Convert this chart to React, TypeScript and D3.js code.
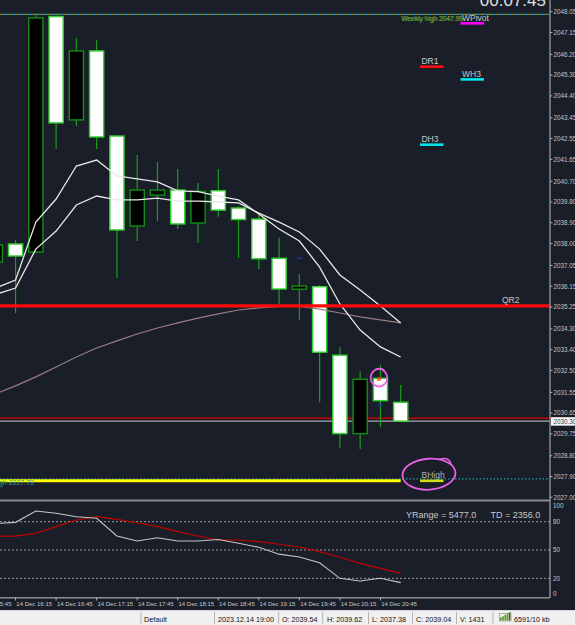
import React from "react";
import * as d3 from "d3";

// ---------- data ----------
const candleTimes = ["16:00","16:15","16:30","16:45","17:00","17:15","17:30","17:45","18:00","18:15","18:30","18:45","19:00","19:15","19:30","19:45","20:00","20:15","20:30","20:45","21:00"];
const opens  = [2037.20,2037.98,2037.63,2047.84,2043.36,2046.35,2042.66,2038.76,2040.10,2040.32,2038.89,2040.29,2039.54,2039.06,2037.36,2036.02,2036.13,2033.16,2029.76,2032.16,2031.12];
const highs  = [2038.02,2038.15,2047.97,2047.95,2046.91,2046.82,2042.70,2041.84,2041.54,2041.23,2040.62,2041.23,2039.62,2039.24,2038.25,2036.68,2036.20,2033.50,2032.46,2032.74,2031.87];
const lows   = [2037.07,2034.99,2037.59,2042.10,2043.10,2042.10,2036.51,2038.11,2038.98,2038.63,2038.02,2039.16,2037.38,2036.90,2035.38,2034.70,2031.12,2029.15,2029.09,2030.04,2030.27];
const closes = [2037.94,2037.46,2047.78,2043.23,2046.35,2042.62,2038.59,2040.32,2040.32,2038.85,2040.26,2039.45,2039.04,2037.34,2036.03,2036.16,2033.29,2029.76,2032.12,2031.19,2030.30];

const maFast = [2036.07,2036.42,2038.93,2039.93,2041.36,2041.62,2040.93,2040.80,2040.67,2040.28,2040.25,2040.06,2039.89,2039.28,2038.63,2038.11,2036.98,2035.38,2034.25,2033.52,2033.08];
const maMid  = [2035.79,2036.07,2037.76,2038.54,2039.67,2040.06,2039.89,2039.89,2039.97,2039.84,2039.84,2039.80,2039.76,2039.32,2038.93,2038.50,2037.76,2036.64,2035.99,2035.29,2034.56];
const maSlow = [2031.48,2031.83,2032.22,2032.65,2033.08,2033.47,2033.78,2034.08,2034.34,2034.56,2034.77,2034.95,2035.12,2035.21,2035.27,2035.27,2035.16,2034.99,2034.82,2034.69,2034.56];

const oscMain   = [78.1,79.3,91.3,88.9,85.3,83.6,64.8,59.5,63.0,59.5,59.5,61.1,57.1,52.9,45.6,42.6,36.5,20.0,17.2,20.0,15.4];
const oscSignal = [64.8,64.8,67.7,74.7,81.8,85.3,82.5,78.9,74.7,69.4,64.8,60.6,60.6,58.8,56.1,53.2,48.2,42.3,35.9,30.6,25.3];

const priceTicks = ["2048.05","2047.15","2046.20","2045.30","2044.40","2043.45","2042.55","2041.65","2040.70","2039.80","2038.90","2038.00","2037.05","2036.15","2035.25","2034.30","2033.40","2032.50","2031.55","2030.65","2029.75","2028.80","2027.90","2027.00"];
const oscTicks = [100, 80, 50, 20, 0];
const oscLevels = [80, 50, 20];
const xTickTimes = ["15:45","16:15","16:45","17:15","17:45","18:15","18:45","19:15","19:45","20:15","20:45"];

const weeklyHigh = 2047.93;
const weeklyHighLabel = "Weekly high 2047.99";
const qr2Level = 2035.30;
const redThinLevel = 2030.43;
const currentPrice = 2030.30;
const yellowLevel = 2027.72;
const bHighLevel = 2027.80;
const bHighLabel = "BHigh 2027.79";

const pivotNames  = ["WPivot", "DR1", "WH3", "DH3", "BHigh"];
const pivotValues = [2047.55, 2045.67, 2045.12, 2042.29, 2027.72];
const pivotTimes  = ["21:45", "21:15", "21:45", "21:15", "21:15"];
const pivotColors = ["#ff00ff", "#ff1010", "#00e5f0", "#00e5f0", "#d4dc10"];

const blueMarkTimes = ["19:45", "20:45"];
const blueMarkValues = [2037.36, 2031.00];

const statusTexts = ["Default","2023.12.14 19:00","O: 2039.54","H: 2039.62","L: 2037.38","C: 2039.04","V: 1431","6591/10 kb"];

export default function App() {
  const W = 575, H = 625;
  const FONT = "'Liberation Sans', Arial, sans-serif";
  const parseT = d3.timeParse("%Y-%m-%d %H:%M");
  const t = (s: string) => parseT("2023-12-14 " + s) as Date;
  const fmtX = d3.timeFormat("%d %b %H:%M");

  const axisX = 550;
  const x = d3.scaleTime().domain([t("16:00"), t("21:00")]).range([-4.7, 400.7]);
  const y = d3.scaleLinear().domain([2027.0, 2048.05]).range([497.3, 11.7]);
  const yo = d3.scaleLinear().domain([0, 100]).range([597.2, 502.8]);

  const step = x(t("16:15")) - x(t("16:00"));
  const bw = step * 0.7;

  const candles = candleTimes.map((s, i) => ({ t: t(s), o: opens[i], h: highs[i], l: lows[i], c: closes[i] }));
  const pline = d3.line<number>().x((_, i) => x(candles[i].t)).y((v) => y(v));
  const oline = d3.line<number>().x((_, i) => x(candles[i].t)).y((v) => yo(v));

  const bhX = x(t("21:15"));
  const bhY = y(yellowLevel);
  const circX = x(t("20:45"));
  const circY = y(opens[19]);

  const statusX = [144, 218, 282, 327, 372, 416, 460, 514];
  const sepX = [141, 214.5, 278.7, 322.7, 368.5, 412.5, 456.5, 493];

  return (
    <svg width={W} height={H} style={{ position: "absolute", left: 0, top: 0, display: "block" }} fontFamily={FONT}>
      <rect x={0} y={0} width={W} height={H} fill="#1a1e29" />

      {/* thin level lines behind candles */}
      <line x1={0} x2={W} y1={y(redThinLevel)} y2={y(redThinLevel)} stroke="#e00000" strokeWidth={1.3} />
      <line x1={0} x2={axisX} y1={y(currentPrice)} y2={y(currentPrice)} stroke="#a8a8a8" strokeWidth={1.3} />

      {/* weekly high dashed */}
      <line x1={0} x2={axisX} y1={y(weeklyHigh)} y2={y(weeklyHigh)} stroke="#7a8a2a" strokeWidth={1.2} strokeDasharray="4,4" />
      <line x1={0} x2={axisX} y1={y(weeklyHigh)} y2={y(weeklyHigh)} stroke="#1f95a5" strokeWidth={1.2} strokeDasharray="4,4" strokeDashoffset={4} />

      {/* BHigh dotted + yellow */}
      <line x1={0} x2={axisX} y1={y(bHighLevel)} y2={y(bHighLevel)} stroke="#1aa0a0" strokeWidth={1.2} strokeDasharray="1.5,2" />
      <line x1={0} x2={x(t("21:00"))} y1={y(yellowLevel)} y2={y(yellowLevel)} stroke="#ffff00" strokeWidth={3} />
      <text x={34} y={y(bHighLevel) + 6} fontSize={7} fill="#1aa5a5" textAnchor="end">{bHighLabel}</text>

      {/* candles */}
      {candles.map((d, i) => {
        const cx = x(d.t);
        const bear = d.c < d.o;
        const top = y(Math.max(d.o, d.c));
        const bot = y(Math.min(d.o, d.c));
        return (
          <g key={i}>
            <line x1={cx} x2={cx} y1={y(d.h)} y2={y(d.l)} stroke="#1a9e1a" strokeWidth={1.2} />
            <rect x={cx - bw / 2} y={top} width={bw} height={Math.max(bot - top, 1.5)}
              fill={bear ? "#ffffff" : "#000000"} stroke={bear ? "#2fd02f" : "#138e13"} strokeWidth={1.4} />
          </g>
        );
      })}

      {/* blue markers */}
      {blueMarkTimes.map((s, i) => (
        <line key={i} x1={x(t(s)) - 2.5} x2={x(t(s)) + 2.5} y1={y(blueMarkValues[i])} y2={y(blueMarkValues[i])} stroke="#2030b0" strokeWidth={1.5} />
      ))}

      {/* moving averages */}
      <path d={pline(maSlow) || ""} fill="none" stroke="#9a7b83" strokeWidth={1.2} />
      <path d={pline(maMid) || ""} fill="none" stroke="#e8e8e8" strokeWidth={1.3} />
      <path d={pline(maFast) || ""} fill="none" stroke="#e8e8e8" strokeWidth={1.3} />

      {/* QR2 thick red */}
      <line x1={0} x2={axisX} y1={y(qr2Level)} y2={y(qr2Level)} stroke="#ff0a0a" strokeWidth={3.2} />
      <text x={502} y={y(qr2Level) - 2.5} fontSize={8.5} fill="#c8c8c8">QR2</text>

      {/* pivot labels */}
      {pivotNames.map((n, i) => {
        const px = x(t(pivotTimes[i]));
        const py = y(pivotValues[i]);
        return (
          <g key={n}>
            <rect x={px - 1} y={py - 1.2} width={23.5} height={2.6} fill={pivotColors[i]} />
            <text x={px + 0.5} y={py - 2.2} fontSize={8.5} fill="#c8c8c8" opacity={n === "BHigh" ? 0.85 : 1}>{n}</text>
          </g>
        );
      })}

      {/* weekly high label */}
      <text x={401} y={21.3} fontSize={6.6} fill="#8a9a30">{weeklyHighLabel}</text>
      <text x={402} y={20.6} fontSize={6.6} fill="#3aa53a" opacity={0.85}>{weeklyHighLabel}</text>

      {/* red marker + magenta annotations */}
      <text x={circX - 1.5} y={circY + 2.5} fontSize={5.5} fill="#ff2a1a" textAnchor="middle" fontWeight="bold">M</text>
      <ellipse cx={circX - 1.5} cy={circY - 0.5} rx={8.3} ry={8.8} fill="none" stroke="#e860e8" strokeWidth={1.8} />
      <path d={`M${circX - 5},${circY - 8.5} q6,-3 9,1`} fill="none" stroke="#e860e8" strokeWidth={1.6} />
      <ellipse cx={bhX + 8} cy={bhY - 6.5} rx={26.5} ry={15.5} fill="none" stroke="#e860e8" strokeWidth={1.8} transform={`rotate(-4 ${bhX + 8} ${bhY - 6.5})`} />
      <path d={`M${bhX + 18},${bhY - 21} q10,-4 12,5`} fill="none" stroke="#e860e8" strokeWidth={1.6} />

      {/* timer */}
      <text x={546} y={5.5} fontSize={17} fill="#e0e0e0" textAnchor="end">00:07:45</text>

      {/* price axis */}
      <line x1={axisX} x2={axisX} y1={0} y2={598} stroke="#8a8a8a" strokeWidth={1.5} />
      {priceTicks.map((p) => (
        <g key={p}>
          <line x1={axisX} x2={axisX + 2.5} y1={y(+p)} y2={y(+p)} stroke="#b0b0b0" strokeWidth={1} />
          <text x={553.5} y={y(+p) + 2.3} fontSize={6.3} fill="#c4c4c4">{p}</text>
        </g>
      ))}
      <rect x={551} y={y(currentPrice) - 4} width={24} height={8.5} fill="#f4f4f4" />
      <text x={553.5} y={y(currentPrice) + 2.5} fontSize={6.3} fill="#404040">{currentPrice.toFixed(2)}</text>

      {/* indicator panel */}
      <line x1={0} x2={axisX} y1={500.5} y2={500.5} stroke="#8c8c8c" strokeWidth={2} />
      <line x1={0} x2={axisX} y1={597.7} y2={597.7} stroke="#8c8c8c" strokeWidth={1.6} />
      {oscLevels.map((v) => (
        <line key={v} x1={0} x2={axisX} y1={yo(v)} y2={yo(v)} stroke="#9a9a9a" strokeWidth={1} strokeDasharray="2,2" />
      ))}
      {oscTicks.map((v) => (
        <text key={v} x={553} y={Math.min(Math.max(yo(v), 505.5), 593.5) + 2.3} fontSize={6.3} fill="#c4c4c4">{v}</text>
      ))}
      <path d={oline(oscSignal) || ""} fill="none" stroke="#c00000" strokeWidth={1.2} />
      <path d={oline(oscMain) || ""} fill="none" stroke="#c4c4c4" strokeWidth={1.1} />
      <text x={406} y={517.5} fontSize={9} fill="#c8c8c8">YRange = 5477.0</text>
      <text x={490.5} y={517.5} fontSize={9} fill="#c8c8c8">TD = 2356.0</text>

      {/* time axis */}
      {xTickTimes.map((s) => {
        const tx = x(t(s));
        return (
          <g key={s}>
            <line x1={tx} x2={tx} y1={597.5} y2={600.5} stroke="#b0b0b0" strokeWidth={1} />
            <text x={tx + 0.8} y={605.5} fontSize={6} fill="#c8c8c8">{fmtX(t(s))}</text>
          </g>
        );
      })}

      {/* status bar */}
      <rect x={0} y={610} width={W} height={15} fill="#f0f0f0" />
      <line x1={0} x2={W} y1={610.5} y2={610.5} stroke="#d8d8d8" strokeWidth={1} />
      {sepX.map((sx, i) => (
        <line key={i} x1={sx} x2={sx} y1={612} y2={624} stroke="#b4b4b4" strokeWidth={1} />
      ))}
      {statusTexts.map((s, i) => (
        <text key={i} x={statusX[i]} y={621.5} fontSize={7.2} fill="#111">{s}</text>
      ))}
      {[0, 1, 2, 3, 4].map((k) => (
        <rect key={k} x={500 + k * 2.2} y={620.5 - (3 + k * 1.3)} width={1.7} height={3 + k * 1.3} fill={k < 4 ? "#5a9a2a" : "#3a6a1a"} />
      ))}
      <rect x={499.5} y={613.5} width={11.5} height={7.5} fill="none" stroke="#7a8a5a" strokeWidth={0.6} />
    </svg>
  );
}
